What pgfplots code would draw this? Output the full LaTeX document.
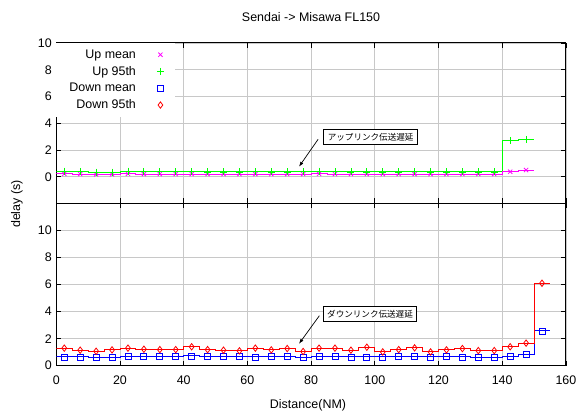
\documentclass[border=0pt]{standalone}
\usepackage{pgfplots}
\pgfplotsset{compat=1.18}
\usepackage{pgfplotstable}
\usepackage{fontspec}
\setmainfont{Liberation Sans}
\newfontfamily\jp{Noto Sans CJK JP}
\usetikzlibrary{arrows.meta}

\definecolor{gridgray}{RGB}{200,200,200}
\definecolor{upmeanc}{RGB}{255,0,255}
\definecolor{up95c}{RGB}{0,255,0}
\definecolor{downmeanc}{RGB}{0,0,255}
\definecolor{down95c}{RGB}{255,0,0}

% x = bin centre; first and last rows close the step line at the bin edges
\pgfplotstableread{
x upmean up95
0 0.22 0.42
2.5 0.22 0.42
7.5 0.20 0.38
12.5 0.18 0.35
17.5 0.18 0.35
22.5 0.22 0.42
27.5 0.20 0.40
32.5 0.20 0.38
37.5 0.20 0.38
42.5 0.20 0.38
47.5 0.20 0.36
52.5 0.20 0.36
57.5 0.20 0.36
62.5 0.20 0.38
67.5 0.20 0.36
72.5 0.20 0.36
77.5 0.20 0.38
82.5 0.22 0.42
87.5 0.20 0.38
92.5 0.20 0.36
97.5 0.20 0.36
102.5 0.20 0.36
107.5 0.20 0.36
112.5 0.20 0.38
117.5 0.20 0.36
122.5 0.20 0.36
127.5 0.20 0.36
132.5 0.20 0.36
137.5 0.20 0.36
142.5 0.38 2.70
147.5 0.50 2.80
150 0.50 2.80
}\uptable

\pgfplotstableread{
x downmean down95
0 0.65 1.30
2.5 0.65 1.30
7.5 0.65 1.15
12.5 0.62 1.07
17.5 0.60 1.17
22.5 0.67 1.30
27.5 0.70 1.22
32.5 0.68 1.19
37.5 0.68 1.19
42.5 0.72 1.40
47.5 0.70 1.19
52.5 0.67 1.15
57.5 0.70 1.10
62.5 0.65 1.30
67.5 0.67 1.17
72.5 0.67 1.27
77.5 0.62 1.05
82.5 0.68 1.30
87.5 0.70 1.30
92.5 0.65 1.15
97.5 0.65 1.37
102.5 0.65 1.02
107.5 0.67 1.19
112.5 0.67 1.32
117.5 0.65 1.02
122.5 0.70 1.17
127.5 0.65 1.27
132.5 0.60 1.12
137.5 0.62 1.12
142.5 0.70 1.40
147.5 0.82 1.67
152.5 2.57 6.10
155 2.57 6.10
}\downtable

\pgfplotsset{
  panel/.style={
    scale only axis,
    width=509.6bp,
    xmin=0, xmax=160,
    xtick={0,20,...,160},
    ytick={0,2,...,10},
    grid=major,
    major grid style={draw=gridgray, line width=0.8bp},
    axis line style={line width=1bp},
    tick style={black, line width=0.8bp},
    tick align=inside,
    tick pos=both,
    major tick length=5bp,
    /pgf/number format/assume math mode=true,
    tick label style={font=\fontsize{12.5}{15}\selectfont},
    yticklabel style={xshift=-1bp},
    xticklabel style={yshift=-7bp},
  },
}

\begin{document}
\begin{tikzpicture}
\useasboundingbox (-56.3bp,-48.3bp) rectangle (520.7bp,365.7bp);

\begin{axis}[panel, at={(0,162.2bp)}, anchor=south west,
  height=160.5bp, ymin=-2, ymax=10, xticklabels={},
  legend plot pos=right,
  legend cell align=right,
  legend style={at={(0,1)}, anchor=north west, draw=none, fill=white,
    font=\fontsize{12.5}{15}\selectfont, inner xsep=11bp, inner ysep=4.5bp,
    row sep=2.5bp, column sep=19bp},
]
\addplot[up95c, line width=1bp, const plot mark mid, forget plot] table[x=x, y=up95] {\uptable};
\addplot[upmeanc, line width=1bp, const plot mark mid, forget plot] table[x=x, y=upmean] {\uptable};
\addplot[only marks, mark=x, mark size=3bp, color=upmeanc, line width=0.8bp, restrict x to domain=1:149] table[x=x, y=upmean] {\uptable};
\addlegendentry{Up mean}
\addplot[only marks, mark=+, mark size=3.5bp, color=up95c, line width=0.8bp, restrict x to domain=1:149] table[x=x, y=up95] {\uptable};
\addlegendentry{Up 95th}
\addlegendimage{only marks, mark=square, mark size=3bp, color=downmeanc, mark options={draw=downmeanc}, line width=0.8bp}
\addlegendentry{Down mean}
\addlegendimage{only marks, mark=diamond, mark size=3.2bp, color=down95c, mark options={draw=down95c}, line width=0.8bp}
\addlegendentry{Down 95th}

\draw[-{Latex[length=5bp,width=3.5bp]}, line width=0.7bp] (axis cs:82.2,2.8) -- (axis cs:76.2,0.75);
\node[draw=black, fill=white, line width=0.8bp, inner xsep=4bp, inner ysep=3.5bp,
  font=\jp\fontsize{8.6}{10}\selectfont] at (axis cs:98.7,2.97) {アップリンク伝送遅延};
\end{axis}

\begin{axis}[panel, at={(0,0)}, anchor=south west,
  height=162.2bp, ymin=0, ymax=12,
]
\addplot[downmeanc, line width=1bp, const plot mark mid] table[x=x, y=downmean] {\downtable};
\addplot[down95c, line width=1bp, const plot mark mid] table[x=x, y=down95] {\downtable};
\addplot[only marks, mark=square, mark size=3bp, color=downmeanc, line width=0.8bp, restrict x to domain=1:154] table[x=x, y=downmean] {\downtable};
\addplot[only marks, mark=diamond, mark size=3.2bp, color=down95c, line width=0.8bp, restrict x to domain=1:154] table[x=x, y=down95] {\downtable};

\draw[-{Latex[length=5bp,width=3.5bp]}, line width=0.7bp] (axis cs:82.6,3.7) -- (axis cs:76.2,1.62);
\node[draw=black, fill=white, line width=0.8bp, inner xsep=4bp, inner ysep=3.5bp,
  font=\jp\fontsize{8.6}{10}\selectfont] at (axis cs:98.5,3.84) {ダウンリンク伝送遅延};
\end{axis}

\node[font=\fontsize{12.5}{15}\selectfont] at (254.7bp,348.7bp) {Sendai -> Misawa FL150};
\node[font=\fontsize{12.5}{15}\selectfont, rotate=90] at (-39.3bp,161.7bp) {delay (s)};
\node[font=\fontsize{12.5}{15}\selectfont] at (251.7bp,-39.3bp) {Distance(NM)};
\end{tikzpicture}
\end{document}
